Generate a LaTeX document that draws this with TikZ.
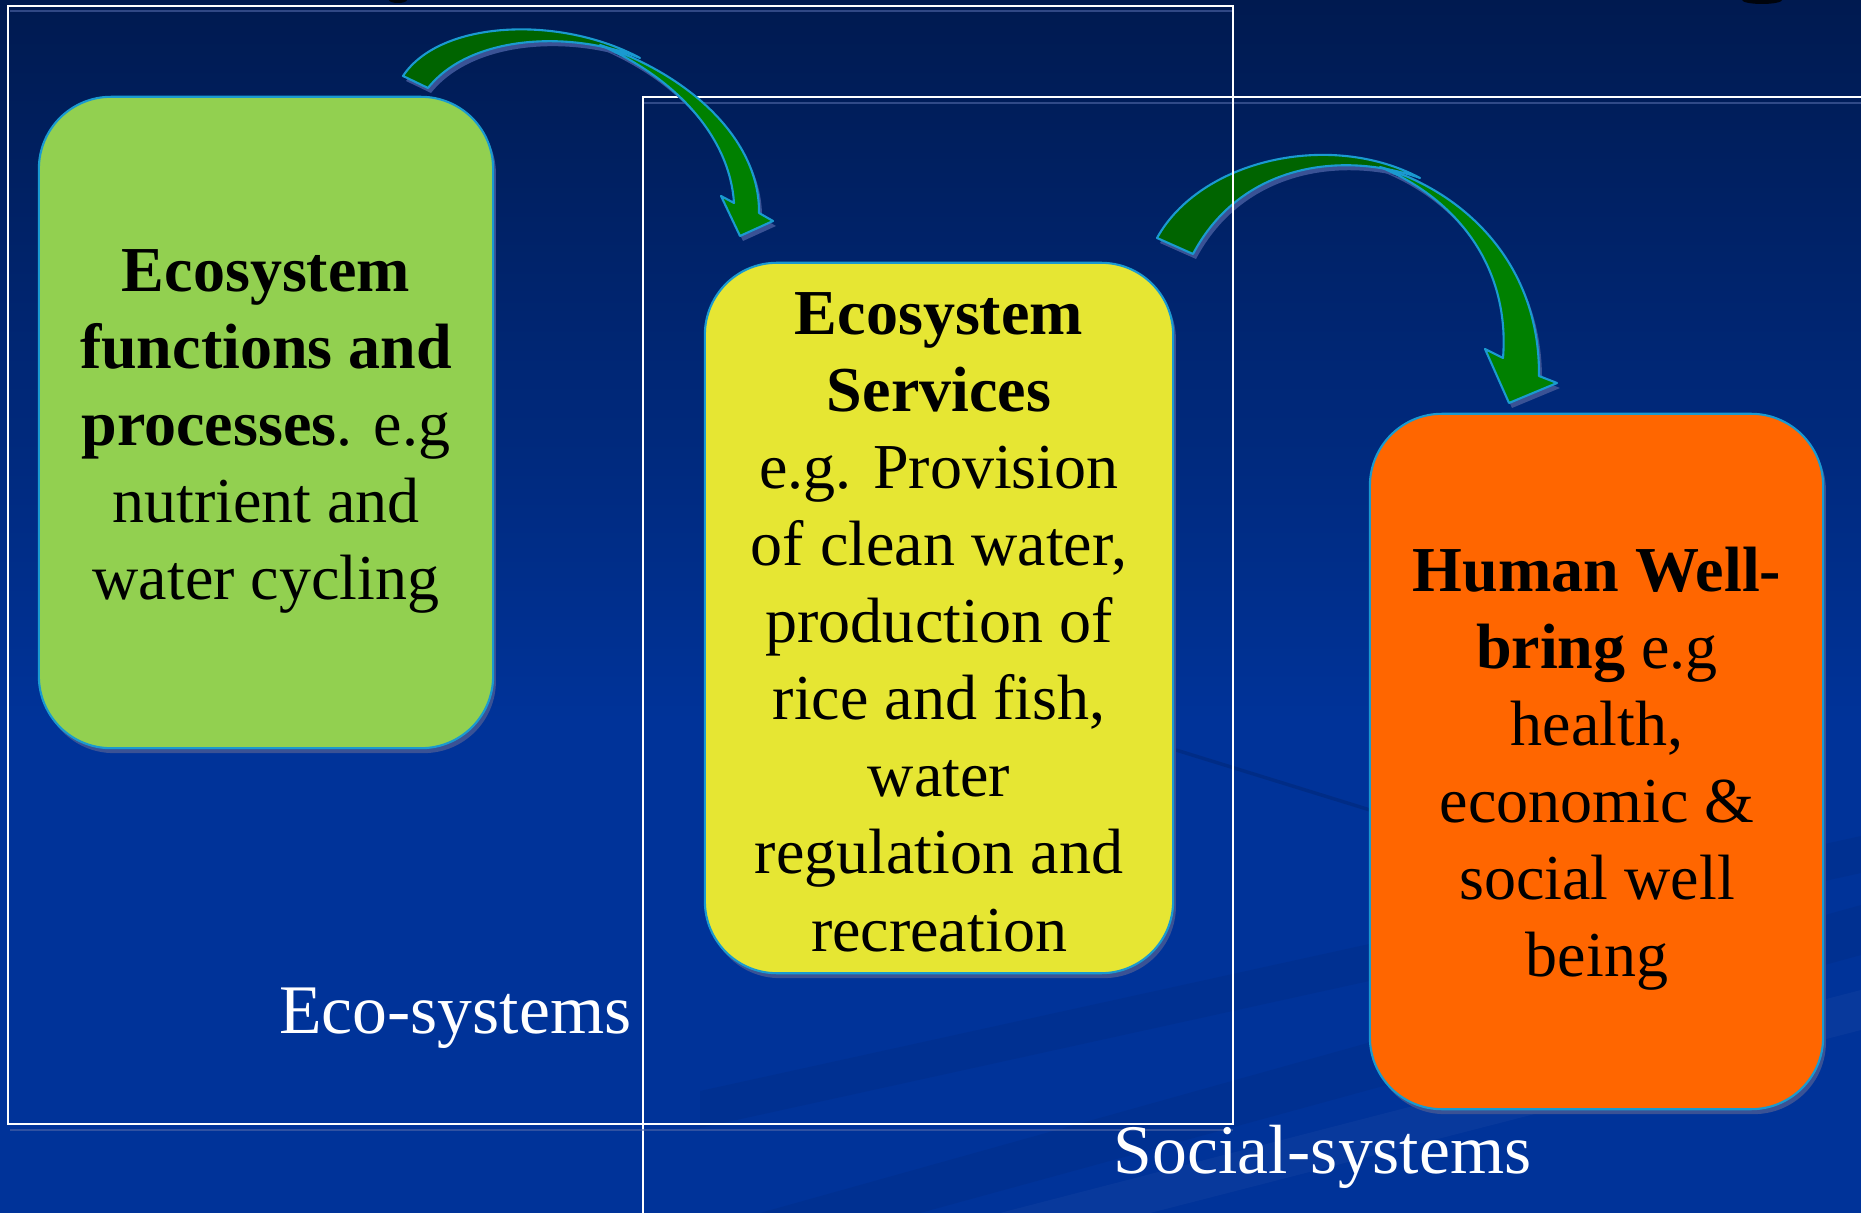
\documentclass[tikz,border=0pt]{standalone}
\usepackage{fontspec}
\setmainfont{Liberation Serif}
\usetikzlibrary{shadows}

\definecolor{bgtop}{HTML}{001A50}
\definecolor{bgmid}{HTML}{002A80}
\definecolor{bgbot}{HTML}{003399}
\definecolor{ecogreen}{HTML}{92D050}
\definecolor{servyellow}{HTML}{E6E633}
\definecolor{humanorange}{HTML}{FF6600}
\definecolor{edgecyan}{HTML}{1A9AD0}
\definecolor{shadowblue}{HTML}{3A5295}
\definecolor{lineshade}{HTML}{5068A8}
\definecolor{arrowdark}{HTML}{006400}
\definecolor{arrowlight}{HTML}{008000}

% block arrow outlines (pixel coordinates, y pointing down)
\newcommand{\ArrowOneBack}{(403,76) .. controls (440,20) and (560,15) .. (640,58)
  .. controls (570,30) and (470,35) .. (428,88) -- cycle}
\newcommand{\ArrowOneFront}{(600,45) .. controls (690,75) and (760,140) .. (759,213)
  -- (773,221) -- (740,236) -- (721,196) -- (734,203)
  .. controls (730,140) and (680,80) .. (600,45) -- cycle}
\newcommand{\ArrowTwoBack}{(1157,238) .. controls (1200,160) and (1330,130) .. (1420,178)
  .. controls (1340,150) and (1240,165) .. (1193,254) -- cycle}
\newcommand{\ArrowTwoFront}{(1380,167) .. controls (1460,190) and (1540,260) .. (1539,376)
  -- (1557,383) -- (1509,403) -- (1485,349) -- (1503,358)
  .. controls (1510,270) and (1460,200) .. (1380,167) -- cycle}

\tikzset{
  panel/.style={draw=edgecyan, line width=0.6pt, rounded corners=0.72cm, inner sep=0pt,
    drop shadow={shadow xshift=0.8pt, shadow yshift=-1.4pt, fill=shadowblue, opacity=1}},
  paneltext/.style={align=center, inner sep=0pt, anchor=north, text=black,
    font=\fontsize{18.21pt}{21.91pt}\selectfont},
  systemlabel/.style={inner sep=0pt, text=white, font=\fontsize{19.8pt}{24pt}\selectfont},
  frameline/.style={draw=white, line width=0.6pt},
  frameshade/.style={draw=lineshade, line width=0.8pt, opacity=0.6},
  arrowshade/.style={fill=shadowblue, shift={(3,5)}},
  arrowback/.style={fill=arrowdark, draw=edgecyan, line width=0.6pt, line join=round},
  arrowfront/.style={fill=arrowlight, draw=edgecyan, line width=0.6pt, line join=round},
}

\begin{document}
\begin{tikzpicture}[x=0.01cm, y=-0.01cm]
\useasboundingbox (0,0) rectangle (1861,1213);
\clip (0,0) rectangle (1861,1213);

% background
\fill[bgbot] (0,0) rectangle (1861,1213);
\shade[top color=bgtop, middle color=bgmid, bottom color=bgbot] (0,0) rectangle (1861,720);
\fill[black, opacity=0.05] (700,1091) -- (1861,836) -- (1861,873) -- (700,1128) -- cycle;
\fill[black, opacity=0.05] (760,1213) -- (1861,905) -- (1861,955) -- (920,1213) -- cycle;
\fill[white, opacity=0.03] (1000,1213) -- (1861,990) -- (1861,1030) -- (1150,1213) -- cycle;
\draw[black, opacity=0.12, line width=1pt] (1176,750) -- (1370,810);
\fill[black!85!bgtop] (398,0) ellipse (9 and 3);
\fill[black!85!bgtop] (1762,0) ellipse (20 and 4);

% social-systems frame
\draw[frameshade] (643,103) -- (1870,103);
\draw[frameline] (643,1230) -- (643,97) -- (1870,97);

% arrow from functions to services
\fill[arrowshade] \ArrowOneBack;
\fill[arrowshade] \ArrowOneFront;
\path[arrowback] \ArrowOneBack;
\path[arrowfront] \ArrowOneFront;

% arrow from services to well-being
\fill[arrowshade] \ArrowTwoBack;
\fill[arrowshade] \ArrowTwoFront;
\path[arrowback] \ArrowTwoBack;
\path[arrowfront] \ArrowTwoFront;

% eco-systems frame
\draw[frameshade] (10,11) -- (1233,11);
\draw[frameshade] (10,1130) -- (1233,1130);
\draw[frameline] (8,6) rectangle (1233,1124);

% panels
\node[panel, fill=ecogreen, minimum width=4.54cm, minimum height=6.51cm] (functions) at (266,422.5) {};
\node[panel, fill=servyellow, minimum width=4.68cm, minimum height=7.10cm] (services) at (939,618) {};
\node[panel, fill=humanorange, minimum width=4.53cm, minimum height=6.95cm] (wellbeing) at (1596.5,761.5) {};

\node[paneltext] (functionstext) at (266,237) {\strut\textbf{Ecosystem}\\
  \strut\textbf{functions and}\\
  \strut\textbf{processes}. e.g\\
  \strut nutrient and\\
  \strut water cycling};
\node[paneltext] (servicestext) at (939,280) {\strut\textbf{Ecosystem}\\
  \strut\textbf{Services}\\
  \strut e.g. Provision\\
  \strut of clean water,\\
  \strut production of\\
  \strut rice and fish,\\
  \strut water\\
  \strut regulation and\\
  \strut recreation};
\node[paneltext] (wellbeingtext) at (1597,537) {\strut\textbf{Human Well-}\\
  \strut\textbf{bring} e.g\\
  \strut health,\\
  \strut economic \&\\
  \strut social well\\
  \strut being};

% frame labels
\node[systemlabel, anchor=base east] (ecolabel) at (632,1033) {Eco-systems};
\node[systemlabel, anchor=base west] (sociallabel) at (1113,1173) {Social-systems};
\end{tikzpicture}
\end{document}
